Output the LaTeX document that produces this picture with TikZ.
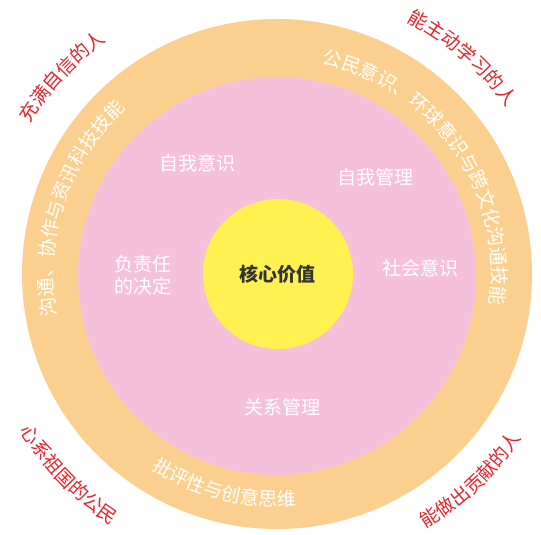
\documentclass[tikz,border=0pt]{standalone}
\usepackage{fontspec}
\setmainfont{Noto Sans CJK SC}
\usetikzlibrary{decorations.text}
\definecolor{ringorange}{HTML}{FBD08F}
\definecolor{ringpink}{HTML}{F5C1DA}
\definecolor{coreyellow}{HTML}{FFF150}
\definecolor{valred}{HTML}{E8232B}
\definecolor{coretext}{HTML}{333333}
\newcommand{\ringfont}{\fontsize{19}{19}\selectfont}
\newcommand{\redfont}{\fontsize{19}{19}\selectfont}
\begin{document}
\begin{tikzpicture}[x=1pt,y=1pt,
  inlabel/.style={text=white, font=\fontsize{19}{22}\selectfont, align=center, inner sep=0},
  ringtext/.style={decorate, decoration={text along path, text align=center, text color=white, text={|\ringfont|#1}}},
  redtext/.style={decorate, decoration={text along path, text align=center, text color=valred, text={|\redfont|#1}}}]
\useasboundingbox (-277,-261) rectangle (264,274);
\node[circle, fill=ringorange, minimum size=510pt, inner sep=0] (outer) at (0,0) {};
\node[circle, fill=ringpink, minimum size=398pt, inner sep=0] (mid) at (0,-2) {};
\node[circle, fill=coreyellow, minimum size=150pt, inner sep=0, text=coretext, font=\fontsize{19}{19}\selectfont\bfseries] (core) at (1,0) {核心价值};
% inner labels
\node[inlabel] (selfaware) at (-79,111) {自我意识};
\node[inlabel] (selfmanage) at (98,97) {自我管理};
\node[inlabel] (decision) at (-134,-1) {负责任\\的决定};
\node[inlabel] (social) at (143,6) {社会意识};
\node[inlabel] (relation) at (6,-133) {关系管理};
% ring texts
\path[ringtext={公民意识、环球意识与跨文化沟通技能}] (95:215) arc[start angle=95, end angle=-25, radius=215];
\path[ringtext={沟通、协作与资讯科技技能}] (221.5:224) arc[start angle=221.5, end angle=101.5, radius=224];
\path[ringtext={批评性与创意思维}] (196:232) arc[start angle=196, end angle=316, radius=232];
% red outer texts
\path[redtext={充满自信的人}] (177.4:289) arc[start angle=177.4, end angle=97.4, radius=289];
\path[redtext={能主动学习的人}] (89.4:284) arc[start angle=89.4, end angle=9.4, radius=284];
\path[redtext={心系祖国的公民}] (184:301) arc[start angle=184, end angle=264, radius=301];
\path[redtext={能做出贡献的人}] (-86.8:295) arc[start angle=-86.8, end angle=-6.8, radius=295];
\end{tikzpicture}
\end{document}
